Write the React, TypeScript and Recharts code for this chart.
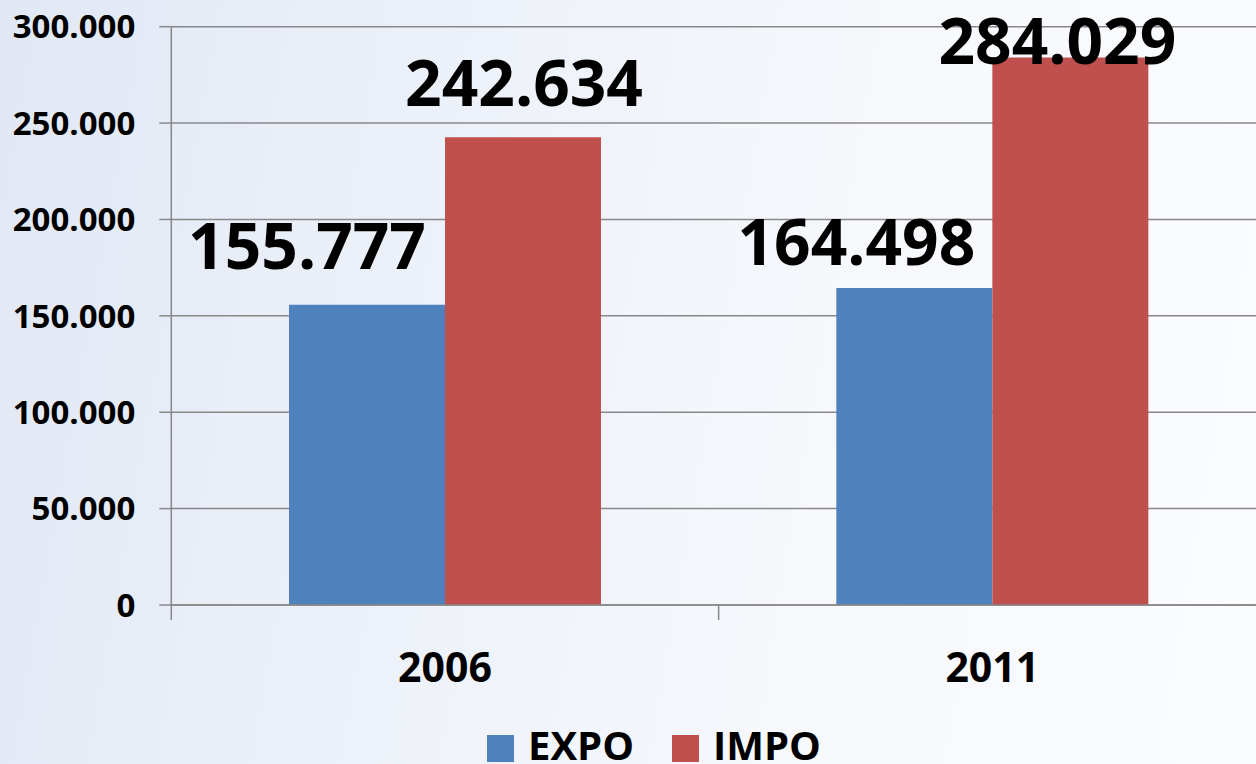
import { BarChart, Bar, XAxis, YAxis, CartesianGrid, Legend, LabelList } from 'recharts'

const years = ['2006', '2011']
const expo = [155777, 164498]
const impo = [242634, 284029]
const yTicks = [0, 50000, 100000, 150000, 200000, 250000, 300000]

// label nudges (px) relative to the top centre of each bar, as placed in the original
const expoLabelShift = [{ dx: -60, dy: -36 }, { dx: -58, dy: -23 }]
const impoLabelShift = [{ dx: 1, dy: -31 }, { dx: -13, dy: 6 }]

const data = years.map((y, i) => ({ year: y, EXPO: expo[i], IMPO: impo[i] }))

const FONT = '"Open Sans", sans-serif'
const GRID = '#888888'
const X_TICK = 15
const X_MARGIN = 32

function fmt(n: number) {
  return String(n).replace(/\B(?=(\d{3})+(?!\d))/g, '.')
}

function makeLabel(shift: { dx: number; dy: number }[]) {
  return (p: any) => {
    const s = shift[p.index] || { dx: 0, dy: -30 }
    return (
      <text
        x={p.x + p.width / 2 + s.dx}
        y={p.y + s.dy}
        textAnchor="middle"
        fontFamily={FONT}
        fontWeight={700}
        fontSize={64}
        fill="#000"
      >
        {fmt(p.value)}
      </text>
    )
  }
}

function YearTick(p: any) {
  const bw = p.width / p.visibleTicksCount
  const axisY = p.y - X_MARGIN - X_TICK
  const left = p.x - bw / 2
  return (
    <g>
      <line x1={left} x2={left} y1={axisY} y2={axisY + X_TICK} stroke={GRID} strokeWidth={1.5} />
      {p.index === p.visibleTicksCount - 1 && (
        <line x1={p.x + bw / 2} x2={p.x + bw / 2} y1={axisY} y2={axisY + X_TICK} stroke={GRID} strokeWidth={1.5} />
      )}
      <text x={p.x} y={p.y + 29.5} textAnchor="middle" fontFamily={FONT} fontWeight={700} fontSize={41} fill="#000">
        {p.payload.value}
      </text>
    </g>
  )
}

function LegendBox({ payload }: any) {
  return (
    <div style={{ display: 'flex', height: 40, fontFamily: FONT, fontWeight: 700, fontSize: 40, lineHeight: '40px', color: '#000' }}>
      {(payload || []).map((e: any, i: number) => (
        <div key={e.value} style={{ display: 'flex', marginLeft: i ? 38 : 0 }}>
          <div style={{ width: 27, height: 27, marginTop: 10, marginRight: 14, background: e.color }} />
          <span>{e.value}</span>
        </div>
      ))}
    </div>
  )
}

export default function App() {
  return (
    <div
      style={{
        position: 'fixed',
        left: 0,
        top: 0,
        width: 1256,
        height: 764,
        overflow: 'hidden',
        background: 'linear-gradient(100deg, #e1e8f4 0%, #edf1f9 35%, #f6f8fc 65%, #fbfcfe 100%)',
      }}
    >
      <BarChart
        width={1276}
        height={780}
        data={data}
        margin={{ top: 26.7, right: 10, bottom: 15, left: 0 }}
        barCategoryGap={117.7}
        barGap={0}
      >
        <CartesianGrid vertical={false} stroke={GRID} strokeWidth={1.5} />
        <XAxis
          dataKey="year"
          height={120}
          stroke={GRID}
          strokeWidth={1.5}
          tickLine={false}
          tickSize={X_TICK}
          tickMargin={X_MARGIN}
          tick={<YearTick />}
        />
        <YAxis
          width={171.3}
          domain={[0, 300000]}
          ticks={yTicks}
          interval={0}
          stroke={GRID}
          strokeWidth={1.5}
          tickSize={12}
          tickMargin={24}
          tickFormatter={(v: number) => fmt(v)}
          tick={{ fill: '#000', fontFamily: FONT, fontWeight: 700, fontSize: 33 }}
        />
        <Legend
          verticalAlign="bottom"
          content={<LegendBox />}
          wrapperStyle={{ left: 487, width: 'auto' }}
        />
        <Bar dataKey="EXPO" fill="#4f81bd" isAnimationActive={false}>
          <LabelList dataKey="EXPO" content={makeLabel(expoLabelShift)} />
        </Bar>
        <Bar dataKey="IMPO" fill="#c0504d" isAnimationActive={false}>
          <LabelList dataKey="IMPO" content={makeLabel(impoLabelShift)} />
        </Bar>
      </BarChart>
    </div>
  )
}
